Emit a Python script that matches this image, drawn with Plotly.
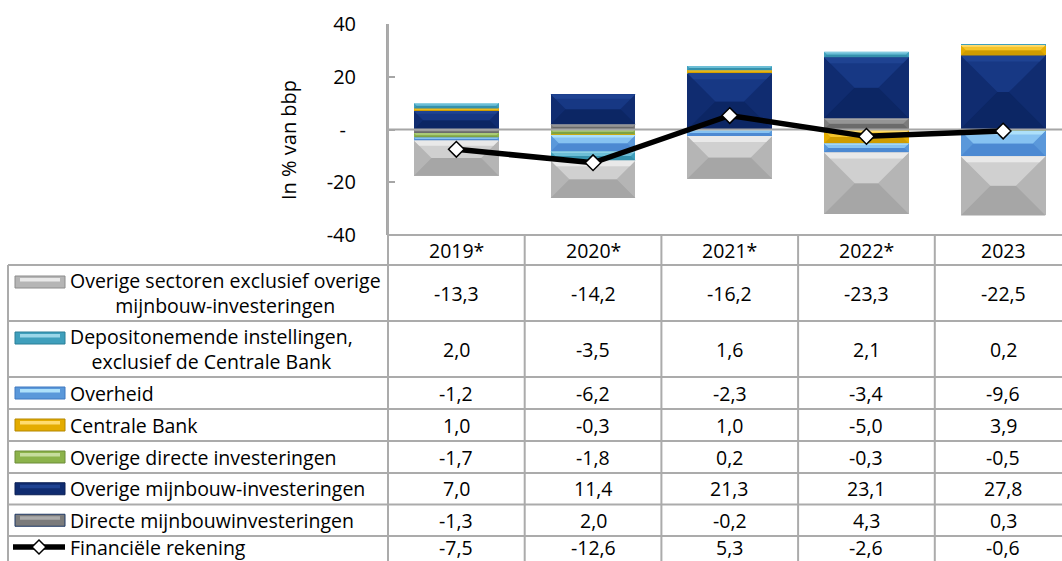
import plotly.graph_objects as go

# ---- data -------------------------------------------------------------
years = ["2019*", "2020*", "2021*", "2022*", "2023"]

overige_sectoren = [-13.3, -14.2, -16.2, -23.3, -22.5]
depositonemende = [2.0, -3.5, 1.6, 2.1, 0.2]
overheid = [-1.2, -6.2, -2.3, -3.4, -9.6]
centrale_bank = [1.0, -0.3, 1.0, -5.0, 3.9]
overige_directe = [-1.7, -1.8, 0.2, -0.3, -0.5]
overige_mijnbouw = [7.0, 11.4, 21.3, 23.1, 27.8]
directe_mijnbouw = [-1.3, 2.0, -0.2, 4.3, 0.3]
financiele_rekening = [-7.5, -12.6, 5.3, -2.6, -0.6]

y_ticks = [-40, -20, 0, 20, 40]
y_ticktext = ["-40", "-20", "-\u2002", "20", "40"]

# table rows, top to bottom: (label, values, (side, top, highlight, bottom, border))
rows = [
    ("Overige sectoren exclusief overige<br>mijnbouw-investeringen", overige_sectoren,
     ("#b5b5b5", "#d0d0d0", "#e9e9e9", "#a6a6a6", "#8c8c8c")),
    ("Depositonemende instellingen,<br>exclusief de Centrale Bank", depositonemende,
     ("#3f9fbc", "#6cbed6", "#9ad6e8", "#3591ac", "#2a7f97")),
    ("Overheid", overheid,
     ("#5a98da", "#86c2f1", "#ade0fa", "#4c89d2", "#3f78c0")),
    ("Centrale Bank", centrale_bank,
     ("#e4ac00", "#f4c42a", "#ffdc6e", "#cf9c00", "#b48700")),
    ("Overige directe investeringen", overige_directe,
     ("#8cb34b", "#aacb77", "#c6dd9d", "#7ea244", "#6c8c39")),
    ("Overige mijnbouw-investeringen", overige_mijnbouw,
     ("#102c70", "#173884", "#1f4392", "#0c2664", "#0a1f55")),
    ("Directe mijnbouwinvesteringen", directe_mijnbouw,
     ("#7b7b7b", "#959595", "#ababab", "#6b6b6b", "#1f3864")),
]
line_label = "Financiële rekening"

# ---- layout geometry (pixels) ------------------------------------------
W, H = 1062, 561
PLOT_L, PLOT_T, PLOT_B = 388, 24, 235
COL_W = 136.7
BAR_W = 0.62
X_MIN = -0.5
X_MAX = -0.5 + (W - PLOT_L) / COL_W
Y_MIN, Y_MAX = -40, 40
PX_PER_Y = (PLOT_B - PLOT_T) / (Y_MAX - Y_MIN)

FONT = "Open Sans"
TXT = 19.5
GRID = "#ababab"

HEADER_BOTTOM = 265
row_heights = [56, 56, 32, 32, 32, 31.5, 31.5, 32]
row_edges = [HEADER_BOTTOM]
for h in row_heights:
    row_edges.append(row_edges[-1] + h)


def py(p):
    """pixel row -> paper y"""
    return (PLOT_B - p) / (PLOT_B - PLOT_T)


def px(p):
    """pixel column -> paper x"""
    return (p - PLOT_L) / (W - PLOT_L)


fig = go.Figure()
xs = list(range(len(years)))

# stacking order from the axis outward is the reverse of the table order
stack = list(reversed(rows))
for label, vals, cols in stack:
    fig.add_trace(go.Bar(
        x=xs, y=vals, width=BAR_W, name=label.replace("<br>", " "),
        marker=dict(color=cols[0], line=dict(width=0)),
        showlegend=False, hoverinfo="skip",
    ))

# bevelled faces on every stacked segment (hip-roof shading)
pos = [0.0] * len(xs)
neg = [0.0] * len(xs)
for label, vals, cols in stack:
    polys = {"top": [], "hl": [], "bot": []}
    for i, v in enumerate(vals):
        if v >= 0:
            lo, hi = pos[i], pos[i] + v
            pos[i] = hi
        else:
            lo, hi = neg[i] + v, neg[i]
            neg[i] = lo
        x0, x1 = i - BAR_W / 2, i + BAR_W / 2
        w_px = BAR_W * COL_W
        h_px = (hi - lo) * PX_PER_Y
        b = min(w_px, h_px) / 2
        bx, by = b / COL_W, b / PX_PER_Y
        if h_px <= w_px:
            ym = (hi + lo) / 2
            top = [(x0, hi), (x1, hi), (x1 - bx, ym), (x0 + bx, ym)]
            bot = [(x0, lo), (x1, lo), (x1 - bx, ym), (x0 + bx, ym)]
        else:
            top = [(x0, hi), (x1, hi), (i, hi - by)]
            bot = [(x0, lo), (x1, lo), (i, lo + by)]
        d = min(0.3 * b, 6)
        hl = [(x0, hi), (x1, hi), (x1 - d / COL_W, hi - d / PX_PER_Y),
              (x0 + d / COL_W, hi - d / PX_PER_Y)]
        polys["top"].append(top)
        polys["hl"].append(hl)
        polys["bot"].append(bot)
    for key, colour in (("bot", cols[3]), ("top", cols[1]), ("hl", cols[2])):
        px_list, py_list = [], []
        for poly in polys[key]:
            for (a, c) in poly:
                px_list.append(a)
                py_list.append(c)
            px_list.append(poly[0][0])
            py_list.append(poly[0][1])
            px_list.append(None)
            py_list.append(None)
        fig.add_trace(go.Scatter(
            x=px_list, y=py_list, mode="lines", fill="toself",
            fillcolor=colour, line=dict(width=0, color=colour),
            showlegend=False, hoverinfo="skip",
        ))

# zero line, drawn over the bars
fig.add_trace(go.Scatter(
    x=[X_MIN, X_MAX], y=[0, 0], mode="lines",
    line=dict(color="#a6a6a6", width=2), showlegend=False, hoverinfo="skip",
))

# financial account line
fig.add_trace(go.Scatter(
    x=xs, y=financiele_rekening, mode="lines+markers", name=line_label,
    line=dict(color="black", width=5.5),
    marker=dict(symbol="diamond", size=12, color="white",
                line=dict(color="black", width=1.5)),
    showlegend=False,
))

shapes = []
annotations = []

# ---- data table ---------------------------------------------------------
shapes.append(dict(type="line", xref="paper", yref="paper",
                   x0=0, x1=1, y0=py(PLOT_B), y1=py(PLOT_B),
                   line=dict(color=GRID, width=2)))
for e in row_edges[:-1]:
    shapes.append(dict(type="line", xref="paper", yref="paper",
                       x0=px(8), x1=1, y0=py(e), y1=py(e),
                       line=dict(color=GRID, width=2)))
shapes.append(dict(type="line", xref="paper", yref="paper",
                   x0=px(8), x1=px(8), y0=py(HEADER_BOTTOM), y1=py(H + 5),
                   line=dict(color=GRID, width=2)))
shapes.append(dict(type="line", xref="paper", yref="paper",
                   x0=0, x1=0, y0=py(PLOT_T), y1=py(H + 5),
                   line=dict(color=GRID, width=2)))
for i in range(len(years) - 1):
    shapes.append(dict(type="line", xref="x", yref="paper",
                       x0=i + 0.5, x1=i + 0.5, y0=py(PLOT_B), y1=py(H + 5),
                       line=dict(color=GRID, width=2)))

for i, yr in enumerate(years):
    annotations.append(dict(xref="x", yref="paper", x=i,
                            y=py((PLOT_B + HEADER_BOTTOM) / 2 + 1),
                            xanchor="center", yanchor="middle",
                            text=yr, showarrow=False,
                            font=dict(family=FONT, size=TXT, color="black")))


def fmt(v):
    return f"{v:.1f}".replace(".", ",")


all_rows = [(lab, vals, cols) for lab, vals, cols in rows] + \
           [(line_label, financiele_rekening, None)]
for r, (lab, vals, cols) in enumerate(all_rows):
    top_e, bot_e = row_edges[r], row_edges[r + 1]
    mid = (top_e + bot_e) / 2
    if cols is None:
        # last row runs off the bottom edge; keep its text inside the page
        mid = top_e + 11
    two_lines = "<br>" in lab
    key_y = top_e + 17 if two_lines else mid
    for i, v in enumerate(vals):
        annotations.append(dict(xref="x", yref="paper", x=i, y=py(mid),
                                xanchor="center", yanchor="middle",
                                text=fmt(v), showarrow=False,
                                font=dict(family=FONT, size=TXT, color="black")))
    annotations.append(dict(xref="paper", yref="paper", x=px(68), y=py(mid),
                            xanchor="left", yanchor="middle", align="center",
                            text=lab, showarrow=False,
                            font=dict(family=FONT, size=TXT, color="black")))
    if cols is not None:
        shapes.append(dict(type="rect", xref="paper", yref="paper",
                           x0=px(15), x1=px(65), y0=py(key_y - 6), y1=py(key_y + 6),
                           fillcolor=cols[0], line=dict(color=cols[4], width=1)))
        shapes.append(dict(type="rect", xref="paper", yref="paper",
                           x0=px(20), x1=px(60), y0=py(key_y - 4), y1=py(key_y - 0.5),
                           fillcolor=cols[2], line=dict(width=0)))
    else:
        shapes.append(dict(type="line", xref="paper", yref="paper",
                           x0=px(13), x1=px(65), y0=py(key_y), y1=py(key_y),
                           line=dict(color="black", width=5.5)))
        cx, dx, dy = px(39), 7 / (W - PLOT_L), 7 / (PLOT_B - PLOT_T)
        cy = py(key_y)
        shapes.append(dict(type="path", xref="paper", yref="paper",
                           path=f"M {cx - dx} {cy} L {cx} {cy + dy} L {cx + dx} {cy} L {cx} {cy - dy} Z",
                           fillcolor="white", line=dict(color="black", width=1.5)))

# y-axis title
annotations.append(dict(xref="paper", yref="paper", x=px(288), y=py(140),
                        text="In % van bbp", textangle=-90, showarrow=False,
                        xanchor="center", yanchor="middle",
                        font=dict(family=FONT, size=20, color="black")))

fig.update_layout(
    width=W, height=H,
    margin=dict(l=PLOT_L, r=0, t=PLOT_T, b=H - PLOT_B, pad=0),
    paper_bgcolor="white", plot_bgcolor="white",
    barmode="relative", bargap=0,
    showlegend=False,
    shapes=shapes, annotations=annotations,
    xaxis=dict(range=[X_MIN, X_MAX], visible=False, fixedrange=True),
    yaxis=dict(range=[Y_MIN, Y_MAX], tickvals=y_ticks, ticktext=y_ticktext,
               showgrid=False, zeroline=False,
               showline=True, linecolor="#a6a6a6", linewidth=2,
               ticks="inside", ticklen=7, tickcolor="#a6a6a6", tickwidth=1.5,
               ticklabelstandoff=26,
               tickfont=dict(family=FONT, size=20, color="black"),
               fixedrange=True),
)

fig.write_html("out.html")
